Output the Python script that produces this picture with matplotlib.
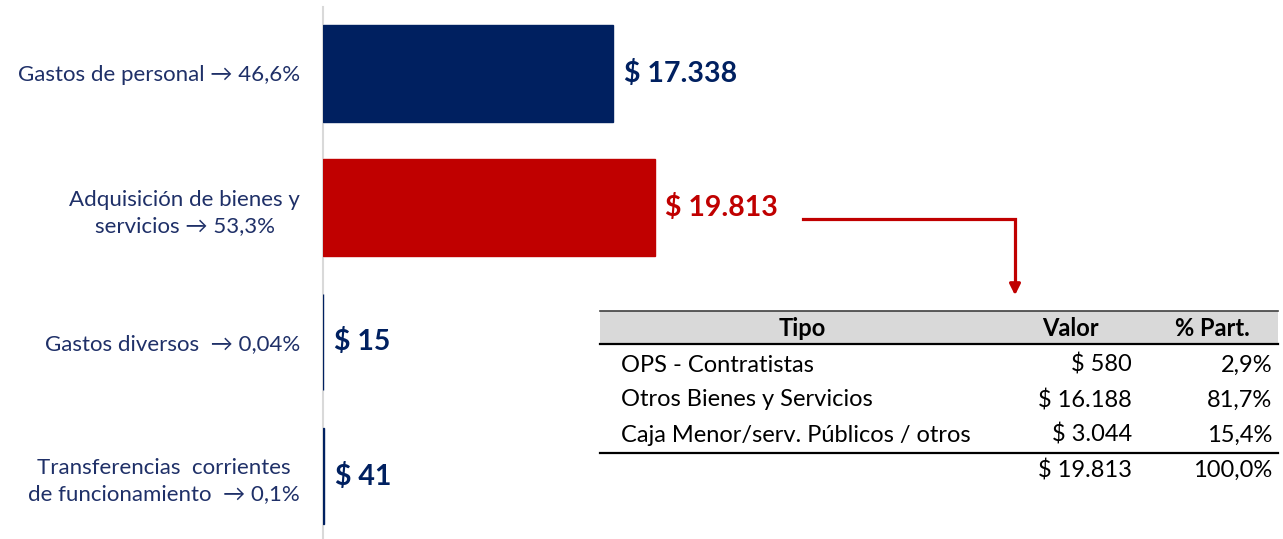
import matplotlib.pyplot as plt
from matplotlib.patches import Rectangle

plt.rcParams['font.family'] = ['Lato', 'DejaVu Sans']

# bar data
categorias = ['Gastos de personal \u2192 46,6%',
              'Adquisición de bienes y\nservicios \u2192 53,3%',
              'Gastos diversos  \u2192 0,04%',
              'Transferencias  corrientes\nde funcionamiento  \u2192 0,1%']
valores = [17338, 19813, 15, 41]
etiquetas = ['$ 17.338', '$ 19.813', '$ 15', '$ 41']
colores = ['#002060', '#C00000', '#002060', '#002060']

# detail table
tabla_cols = ['Tipo', 'Valor', '% Part.']
tipos = ['OPS - Contratistas', 'Otros Bienes y Servicios', 'Caja Menor/serv. Públicos / otros']
tabla_valores = ['$ 580', '$ 16.188', '$ 3.044']
tabla_part = ['2,9%', '81,7%', '15,4%']
total_valor = '$ 19.813'
total_part = '100,0%'

W, H = 1283, 539
fig = plt.figure(figsize=(W / 100, H / 100), dpi=100)
ax = fig.add_axes([323 / W, 0, 954 / W, 1 - 7 / H])

y = list(range(len(valores)))
ax.barh(y, valores, height=0.72, color=colores, edgecolor=colores,
        linewidth=1.0, zorder=3)
ax.set_xlim(0, 57000)
ax.set_ylim(3.468, -0.494)

for yi, v, lab, c in zip(y, valores, etiquetas, colores):
    ax.text(v + 650, yi, lab, ha='left', va='center', fontsize=20.5,
            fontweight='bold', color=c)

ax.set_yticks(y)
ax.set_yticklabels(categorias, fontsize=16, color='#1F3068',
                   multialignment='center', linespacing=1.4)
ax.tick_params(axis='y', length=0, pad=16.5)
ax.set_xticks([])
for s in ['top', 'right', 'bottom']:
    ax.spines[s].set_visible(False)
ax.spines['left'].set_color('#D9D9D9')
ax.spines['left'].set_linewidth(1.5)

# overlay in pixel coords for the table and connector arrow
ov = fig.add_axes([0, 0, 1, 1])
ov.set_xlim(0, W)
ov.set_ylim(H, 0)
ov.axis('off')

ov.plot([803, 1015, 1015], [219, 219, 285], color='#C00000', lw=2.3,
        solid_joinstyle='miter')
ov.annotate('', xy=(1015, 298), xytext=(1015, 284),
            arrowprops=dict(arrowstyle='-|>', color='#C00000', lw=2.3,
                            mutation_scale=16))

x0, x1 = 600, 1278
ov.add_patch(Rectangle((x0, 311), x1 - x0, 33, facecolor='#D9D9D9', edgecolor='none'))
ov.plot([x0, x1], [311, 311], color='#404040', lw=1.2)
ov.plot([x0, x1], [344, 344], color='black', lw=1.6)
ov.plot([x0, x1], [453, 453], color='black', lw=1.6)

fs = 17
hdr_y = 329
ov.text(802, hdr_y, tabla_cols[0], ha='center', va='center', fontsize=fs, fontweight='bold')
ov.text(1070, hdr_y, tabla_cols[1], ha='center', va='center', fontsize=fs, fontweight='bold')
ov.text(1212, hdr_y, tabla_cols[2], ha='center', va='center', fontsize=fs, fontweight='bold')

row_y = [365, 400, 435]
for ry, t, v, p in zip(row_y, tipos, tabla_valores, tabla_part):
    ov.text(621, ry, t, ha='left', va='center', fontsize=fs)
    ov.text(1132, ry, v, ha='right', va='center', fontsize=fs)
    ov.text(1272, ry, p, ha='right', va='center', fontsize=fs)
ov.text(1132, 470, total_valor, ha='right', va='center', fontsize=fs)
ov.text(1272, 470, total_part, ha='right', va='center', fontsize=fs)

fig.savefig('out.png', dpi=100)
